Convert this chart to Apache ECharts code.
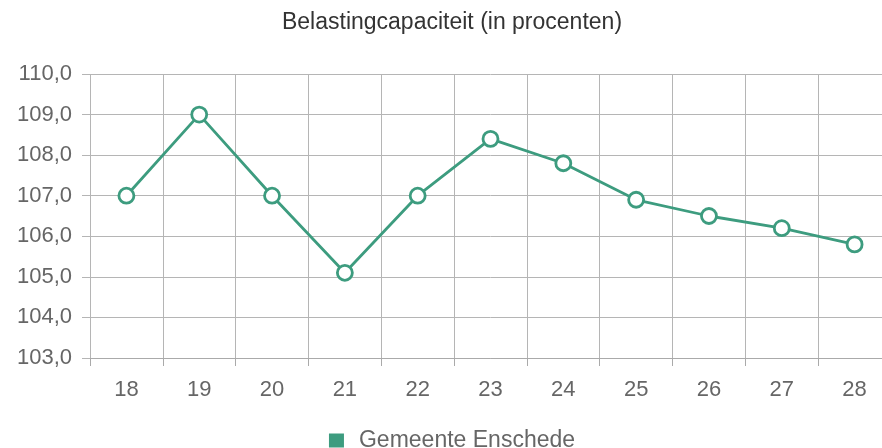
<!DOCTYPE html>
<html>
<head>
<meta charset="utf-8">
<script src="https://cdn.jsdelivr.net/npm/echarts@6/dist/echarts.min.js"></script>
<style>
  html, body { margin: 0; padding: 0; background: #fff; overflow: hidden; }
  #chart { width: 904px; height: 448px; }
</style>
</head>
<body>
<div id="chart"></div>
<script>
const titleText = 'Belastingcapaciteit (in procenten)';
const seriesName = 'Gemeente Enschede';
const years = ['18', '19', '20', '21', '22', '23', '24', '25', '26', '27', '28'];
const capacity = [107.0, 109.0, 107.0, 105.1, 107.0, 108.4, 107.8, 106.9, 106.5, 106.2, 105.8];
const yMin = 103;
const yMax = 110;
const yStep = 1;

const lineColor = '#3d9c7f';
const font = 'Arial, "Liberation Sans", sans-serif';

const chart = echarts.init(document.getElementById('chart'));
chart.setOption({
  animation: false,
  title: {
    text: titleText,
    left: 'center',
    top: 6,
    textStyle: { fontFamily: font, fontSize: 23, fontWeight: 'normal', color: '#333' }
  },
  legend: {
    top: 424,
    left: 'center',
    icon: 'rect',
    itemWidth: 15,
    itemHeight: 14,
    itemStyle: { color: lineColor, borderWidth: 0 },
    textStyle: { fontFamily: font, fontSize: 23, color: '#666', padding: [0, 0, 0, 10] },
    data: [seriesName]
  },
  grid: { left: 90, right: 13, top: 74, bottom: 90 },
  xAxis: {
    type: 'category',
    data: years,
    boundaryGap: true,
    axisLine: { show: true, lineStyle: { color: '#aaa' } },
    axisTick: { show: true, length: 8, lineStyle: { color: '#aaa' } },
    axisLabel: { fontFamily: font, fontSize: 22, color: '#666', margin: 21 },
    splitLine: { show: true, lineStyle: { color: '#b5b5b5' } }
  },
  yAxis: {
    type: 'value',
    min: yMin,
    max: yMax,
    interval: yStep,
    axisLine: { show: false },
    axisTick: { show: true, length: 8, lineStyle: { color: '#b5b5b5' } },
    axisLabel: {
      fontFamily: font, fontSize: 22, color: '#666', margin: 18,
      formatter: v => v.toFixed(1).replace('.', ',')
    },
    splitLine: { show: true, lineStyle: { color: '#b5b5b5' } }
  },
  series: [{
    name: seriesName,
    type: 'line',
    data: capacity,
    symbol: 'circle',
    symbolSize: 15,
    showAllSymbol: true,
    lineStyle: { color: lineColor, width: 2.8 },
    itemStyle: { color: '#fff', borderColor: lineColor, borderWidth: 2.8 }
  }],
  color: [lineColor]
});
</script>
</body>
</html>
